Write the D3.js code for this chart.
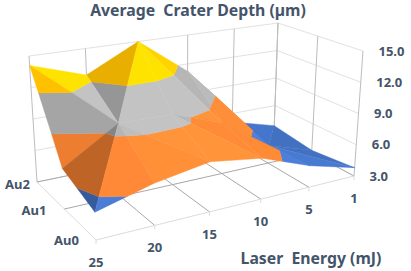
<!DOCTYPE html>
<html>
  <head>
    <title>crater depth surface</title>
    <style>
      body { margin: 0; background: #fff; }
      text { font-family: "Noto Sans", sans-serif; font-weight: 700; fill: #44546a; white-space: pre; }
    </style>
    <script src="https://d3js.org/d3.v7.min.js"></script>
  </head>
  <body>
    <svg class="chart"></svg>
    <script>
var width = 411,
    height = 271;

var energies = ["25", "20", "15", "10", "5", "1"];
var targets = ["Au0", "Au1", "Au2"];
var zTicks = [3, 6, 9, 12, 15];

// one list per target, same order as energies
var au0 = [5.3, 6.6, 7.4, 6.7, 5.0, 3.8];
var au1 = [6.6, 9.7, 9.6, 7.9, 4.75, 3.3];
var au2 = [14.1, 12.4, 15.0, 11.25, 5.1, 3.8];
var depths = [au0, au1, au2];

var bands = [
  {lo: 3, hi: 6, color: "#4472c4"},
  {lo: 6, hi: 9, color: "#ed7d31"},
  {lo: 9, hi: 12, color: "#a5a5a5"},
  {lo: 12, hi: 15, color: "#ffc000"}
];

// box corners on screen, order: near, right, back, left
var floorQuad = [[96, 240], [354, 176], [274, 133], [37, 182]];
var topQuad = [[90.3, 95], [363, 51], [278, 23], [29, 56]];

function homography(q) {
  var dx1 = q[1][0] - q[2][0], dx2 = q[3][0] - q[2][0], sx = q[0][0] - q[1][0] + q[2][0] - q[3][0];
  var dy1 = q[1][1] - q[2][1], dy2 = q[3][1] - q[2][1], sy = q[0][1] - q[1][1] + q[2][1] - q[3][1];
  var den = dx1 * dy2 - dx2 * dy1;
  var g = (sx * dy2 - dx2 * sy) / den, h = (dx1 * sy - sx * dy1) / den;
  var a = q[1][0] - q[0][0] + g * q[1][0], b = q[3][0] - q[0][0] + h * q[3][0];
  var d = q[1][1] - q[0][1] + g * q[1][1], e = q[3][1] - q[0][1] + h * q[3][1];
  return function(u, v) {
    var w = g * u + h * v + 1;
    return [(a * u + b * v + q[0][0]) / w, (d * u + e * v + q[0][1]) / w];
  };
}

var floorH = homography(floorQuad),
    topH = homography(topQuad);

var x = d3.scalePoint().domain(d3.range(energies.length)).range([0, 1]);
var y = d3.scalePoint().domain(d3.range(targets.length)).range([0, 1]);
var z = d3.scaleLinear().domain([3, 15]).range([0, 1]);

// u, v in 0..1, value in data units
function project(u, v, val) {
  var f = floorH(u, v), t = topH(u, v), k = z(val);
  return [f[0] + (t[0] - f[0]) * k, f[1] + (t[1] - f[1]) * k];
}

var chart = d3.select(".chart")
    .attr("width", width)
    .attr("height", height)
    .style("display", "block");

var line = d3.line();

function seg(a, b, color, w) {
  chart.append("path")
      .attr("d", line([a, b]))
      .attr("fill", "none")
      .attr("stroke", color)
      .attr("stroke-width", w || 1);
}

// walls and floor
var gridG = "#e2e2e2", gridV = "#bdbdbd", gridF = "#a8a8a8";

zTicks.forEach(function(t) {
  seg(project(0, 1, t), project(1, 1, t), gridG);
  seg(project(1, 1, t), project(1, 0, t), gridG);
});
energies.forEach(function(e, i) {
  seg(project(x(i), 1, 3), project(x(i), 1, 15), gridV);
  seg(project(x(i), 0, 3), project(x(i), 1, 3), i == 0 ? "#dcdcdc" : gridF);
  seg(project(x(i), 0, 3), [project(x(i), 0, 3)[0], project(x(i), 0, 3)[1] + 4], "#dcdcdc");
});
targets.forEach(function(t, j) {
  seg(project(1, y(j), 3), project(1, y(j), 15), gridV);
  seg(project(0, y(j), 3), project(1, y(j), 3), j == 0 ? "#dcdcdc" : gridF);
});

var shade = d3.scaleLinear()
    .domain([0.3, 0.68, 0.85, 0.92, 1.04])
    .range([0.8, 0.92, 1, 1.1, 1.18])
    .clamp(true);

function facetFactor(tri) {
  // tri nodes are [i, j, value], slopes per cell
  var a = tri[0], b = tri[1], c = tri[2];
  var ux = b[0] - a[0], uy = b[1] - a[1], uz = b[2] - a[2];
  var vx = c[0] - a[0], vy = c[1] - a[1], vz = c[2] - a[2];
  var nx = uy * vz - uz * vy, ny = uz * vx - ux * vz, nz = ux * vy - uy * vx;
  if (nz < 0) { nx = -nx; ny = -ny; nz = -nz; }
  var len = Math.sqrt(nx * nx + ny * ny + nz * nz);
  // flat facets and facets turned to the right stay close to the plain colour
  return Math.max(
    shade((0.25 * nx - 0.95 * ny + 0.6 * nz) / len),
    0.5 + 0.9 * nz / len,
    0.72 + 0.3 * nx / len
  );
}

function tint(color, k) {
  var c = d3.rgb(color);
  return d3.rgb(Math.min(255, c.r * k), Math.min(255, c.g * k), Math.min(255, c.b * k)).formatHex();
}

// keep the part of a triangle between two values
function clip(poly, limit, keepAbove) {
  var out = [];
  poly.forEach(function(p, n) {
    var q = poly[(n + 1) % poly.length];
    var pin = keepAbove ? p[2] >= limit : p[2] <= limit;
    var qin = keepAbove ? q[2] >= limit : q[2] <= limit;
    if (pin) out.push(p);
    if (pin != qin) {
      var t = (limit - p[2]) / (q[2] - p[2]);
      out.push([p[0] + (q[0] - p[0]) * t, p[1] + (q[1] - p[1]) * t, limit]);
    }
  });
  return out;
}

function drawTri(tri) {
  var k = facetFactor(tri);
  bands.forEach(function(b) {
    var poly = clip(clip(tri, b.lo, true), b.hi, false);
    if (poly.length < 3) return;
    var col = tint(b.color, k);
    chart.append("path")
        .attr("d", line(poly.map(function(p) {
          return project(p[0] / (energies.length - 1), p[1] / (targets.length - 1), p[2]);
        })) + "Z")
        .attr("fill", col)
        .attr("stroke", col)
        .attr("stroke-width", 0.4);
  });
}

// back row first, far column first
for (var j = targets.length - 2; j >= 0; j--) {
  for (var i = energies.length - 2; i >= 0; i--) {
    var n00 = [i, j, depths[j][i]],
        n10 = [i + 1, j, depths[j][i + 1]],
        n01 = [i, j + 1, depths[j + 1][i]],
        n11 = [i + 1, j + 1, depths[j + 1][i + 1]];
    // cell folds along its higher diagonal
    if (n00[2] + n11[2] >= n10[2] + n01[2]) {
      drawTri([n00, n01, n11]);
      drawTri([n00, n10, n11]);
    } else {
      drawTri([n01, n11, n10]);
      drawTri([n01, n00, n10]);
    }
  }
}

// labels
function label(txt, px, py, size, anchor) {
  chart.append("text")
      .attr("x", px)
      .attr("y", py)
      .attr("dy", ".35em")
      .attr("text-anchor", anchor)
      .attr("font-size", size)
      .text(txt);
}

zTicks.forEach(function(t) {
  var p = project(1, 0, t);
  label(t.toFixed(1), p[0] + 15.5, p[1], 13, "start");
});
energies.forEach(function(e, i) {
  var p = project(x(i), 0, 3);
  label(e, p[0], p[1] + 22.5, 13, "middle");
});
var auDx = [-17, -18, -7], auDy = [0, 1, 2];
targets.forEach(function(t, j) {
  var p = project(0, y(j), 3);
  label(t, p[0] + auDx[j], p[1] + auDy[j], 13, "end");
});

label("Average  Crater Depth (\u00b5m)", 198, 10, 15.8, "middle");
label("Laser  Energy (mJ)", 311, 258, 15.8, "middle");
    </script>
  </body>
</html>
